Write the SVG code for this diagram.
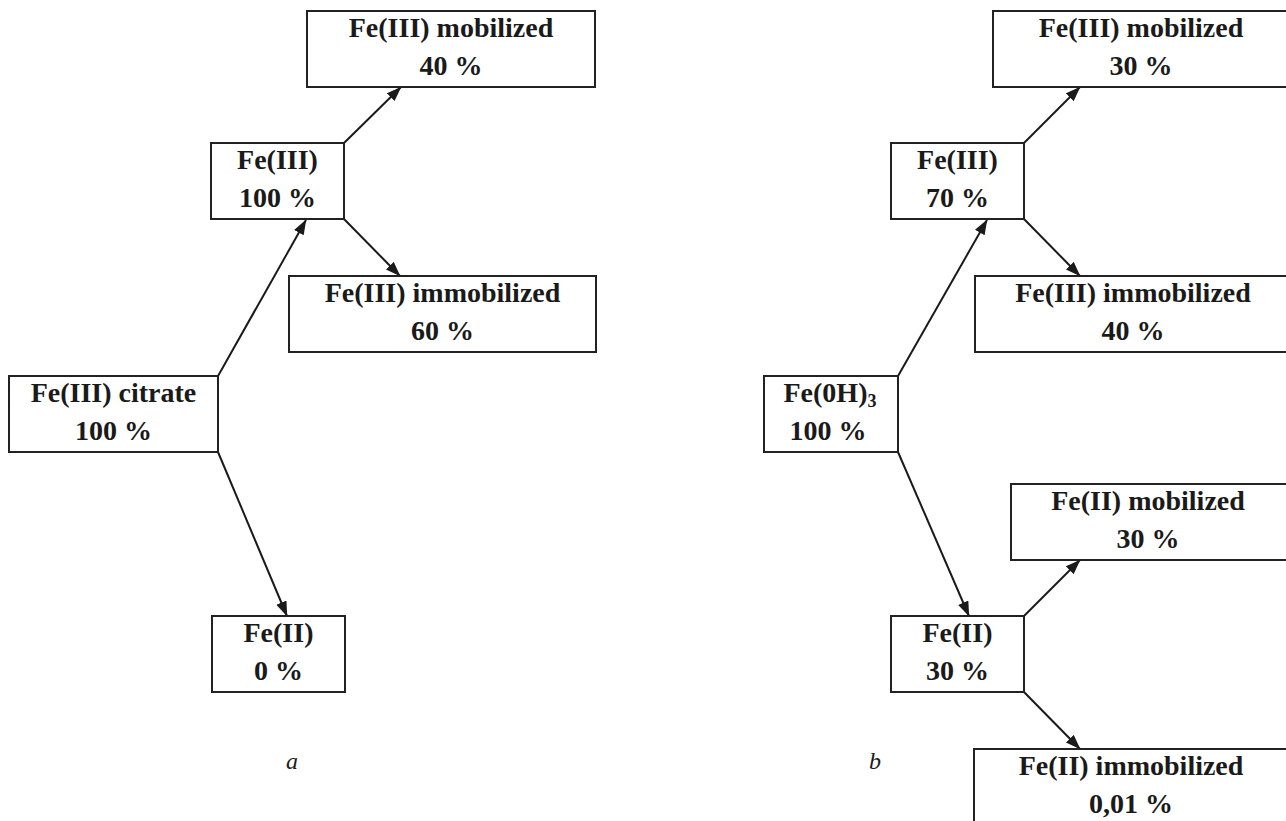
<svg xmlns="http://www.w3.org/2000/svg" width="1286" height="821" viewBox="0 0 1286 821">
  <style>
    .box { fill: #ffffff; stroke: #222222; stroke-width: 2; }
    .t { font-family: "Liberation Serif", "Times New Roman", serif; font-weight: bold; font-size: 28px; fill: #1a1a1a; text-anchor: middle; }
    .lbl { font-family: "Liberation Serif", "Times New Roman", serif; font-style: italic; font-size: 24px; fill: #1a1a1a; text-anchor: middle; }
    .edge { stroke: #1a1a1a; stroke-width: 2; fill: none; marker-end: url(#arrow); }
  </style>
  <defs>
    <marker id="arrow" markerUnits="userSpaceOnUse" markerWidth="16" markerHeight="12" refX="14.5" refY="5.5" orient="auto">
      <path d="M0,0 L15,5.5 L0,11 z" fill="#1a1a1a"/>
    </marker>
  </defs>
  <rect width="1286" height="821" fill="#ffffff"/>

  <g id="connectors">
    <line class="edge" x1="218" y1="376" x2="306" y2="220"/>
    <line class="edge" x1="344" y1="143" x2="401" y2="87"/>
    <line class="edge" x1="344" y1="219" x2="400" y2="276"/>
    <line class="edge" x1="218" y1="452" x2="287" y2="616"/>
    <line class="edge" x1="898" y1="376" x2="987" y2="220"/>
    <line class="edge" x1="1024" y1="143" x2="1080" y2="87"/>
    <line class="edge" x1="1024" y1="219" x2="1080" y2="276"/>
    <line class="edge" x1="898" y1="452" x2="969" y2="616"/>
    <line class="edge" x1="1024" y1="616" x2="1080" y2="560"/>
    <line class="edge" x1="1024" y1="692" x2="1080" y2="749"/>
  </g>

  <g id="a-fe3-mobilized">
    <rect class="box" x="307" y="11" width="288" height="76"/>
    <text class="t" x="451" y="37">Fe(III) mobilized</text>
    <text class="t" x="451" y="75">40 %</text>
  </g>
  <g id="a-fe3">
    <rect class="box" x="211" y="143" width="133" height="76"/>
    <text class="t" x="277.5" y="169">Fe(III)</text>
    <text class="t" x="277.5" y="207">100 %</text>
  </g>
  <g id="a-fe3-immobilized">
    <rect class="box" x="289" y="276" width="307" height="76"/>
    <text class="t" x="442.5" y="302">Fe(III) immobilized</text>
    <text class="t" x="442.5" y="340">60 %</text>
  </g>
  <g id="a-citrate">
    <rect class="box" x="9" y="376" width="209" height="76"/>
    <text class="t" x="113.5" y="402">Fe(III) citrate</text>
    <text class="t" x="113.5" y="440">100 %</text>
  </g>
  <g id="a-fe2">
    <rect class="box" x="212" y="616" width="133" height="76"/>
    <text class="t" x="278.5" y="642">Fe(II)</text>
    <text class="t" x="278.5" y="680">0 %</text>
  </g>

  <g id="b-fe3-mobilized">
    <rect class="box" x="993" y="11" width="310" height="76"/>
    <text class="t" x="1141" y="37">Fe(III) mobilized</text>
    <text class="t" x="1141" y="75">30 %</text>
  </g>
  <g id="b-fe3">
    <rect class="box" x="891" y="143" width="133" height="76"/>
    <text class="t" x="957.5" y="169">Fe(III)</text>
    <text class="t" x="957.5" y="207">70 %</text>
  </g>
  <g id="b-fe3-immobilized">
    <rect class="box" x="975" y="276" width="320" height="76"/>
    <text class="t" x="1133" y="302">Fe(III) immobilized</text>
    <text class="t" x="1133" y="340">40 %</text>
  </g>
  <g id="b-feoh3">
    <rect class="box" x="764" y="376" width="134" height="76"/>
    <text class="t" x="830" y="402">Fe(0H)<tspan font-size="18" dy="5">3</tspan></text>
    <text class="t" x="828" y="440">100 %</text>
  </g>
  <g id="b-fe2-mobilized">
    <rect class="box" x="1011" y="484" width="290" height="76"/>
    <text class="t" x="1148" y="510">Fe(II) mobilized</text>
    <text class="t" x="1148" y="548">30 %</text>
  </g>
  <g id="b-fe2">
    <rect class="box" x="891" y="616" width="133" height="76"/>
    <text class="t" x="957.5" y="642">Fe(II)</text>
    <text class="t" x="957.5" y="680">30 %</text>
  </g>
  <g id="b-fe2-immobilized">
    <rect class="box" x="974" y="749" width="320" height="80"/>
    <text class="t" x="1131" y="775">Fe(II) immobilized</text>
    <text class="t" x="1131" y="813">0,01 %</text>
  </g>

  <g id="labels">
    <text class="lbl" x="292" y="769">a</text>
    <text class="lbl" x="875" y="769">b</text>
  </g>
</svg>
